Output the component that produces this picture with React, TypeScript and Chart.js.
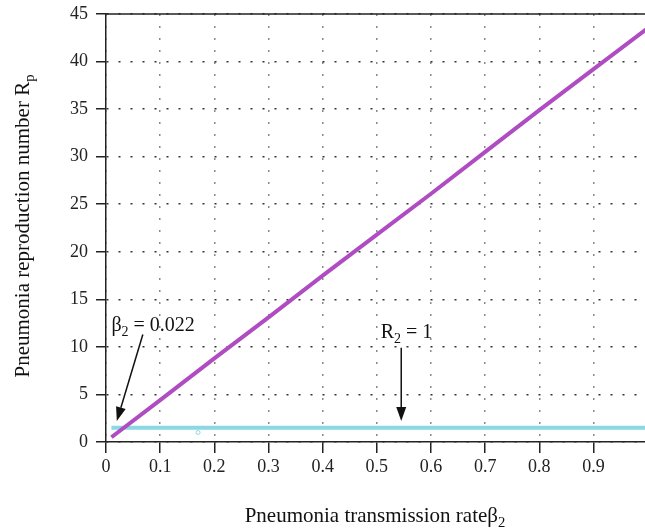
import React, { useEffect, useRef } from "react";
import { Chart, registerables } from "chart.js";
Chart.register(...registerables);

// ---- data ----
const betaValues = [0.01, 0.1, 0.2, 0.3, 0.4, 0.5, 0.6, 0.7, 0.8, 0.9, 1.0];
const rpValues = [0.5, 4.4, 8.8, 13.1, 17.5, 21.8, 26.1, 30.5, 34.9, 39.2, 43.5];
const thresholdBeta = [0.01, 1.0];
const thresholdValues = [1.5, 1.5];
const markerBeta = [0.17];
const markerValues = [1.0];
const xTickValues = [0, 0.1, 0.2, 0.3, 0.4, 0.5, 0.6, 0.7, 0.8, 0.9];
const yTickValues = [0, 5, 10, 15, 20, 25, 30, 35, 40, 45];
const xRange = [0, 0.995];
const yRange = [0, 45];
// annotations: label anchor (beta, Rp), arrow from, arrow to
const betaNote = { main: "\u03B2", sub: "2", rest: " = 0.022", at: [0.01, 11.7], from: [0.068, 11.3], to: [0.02, 2.2] };
const r2Note = { main: "R", sub: "2", rest: " = 1", at: [0.507, 10.9], from: [0.545, 9.9], to: [0.545, 2.2] };
const xTitle = { main: "Pneumonia transmission rate\u03B2", sub: "2" };
const yTitle = { main: "Pneumonia reproduction number R", sub: "p" };

const FONT = '"Liberation Serif", "DejaVu Serif", serif';

function drawSubText(ctx: CanvasRenderingContext2D, main: string, sub: string, rest: string, x: number, y: number, size: number, align: "left" | "center") {
  ctx.font = `${size}px ${FONT}`;
  const w1 = ctx.measureText(main).width;
  ctx.font = `${size * 0.7}px ${FONT}`;
  const w2 = ctx.measureText(sub).width;
  ctx.font = `${size}px ${FONT}`;
  const w3 = ctx.measureText(rest).width;
  const total = w1 + w2 + w3;
  const x0 = align === "center" ? x - total / 2 : x;
  ctx.textAlign = "left";
  ctx.textBaseline = "alphabetic";
  ctx.fillText(main, x0, y);
  ctx.font = `${size * 0.7}px ${FONT}`;
  ctx.fillText(sub, x0 + w1, y + size * 0.25);
  ctx.font = `${size}px ${FONT}`;
  ctx.fillText(rest, x0 + w1 + w2, y);
}

function drawArrow(ctx: CanvasRenderingContext2D, x1: number, y1: number, x2: number, y2: number) {
  const ang = Math.atan2(y2 - y1, x2 - x1);
  const hl = 14, hw = 5;
  const bx = x2 - hl * Math.cos(ang), by = y2 - hl * Math.sin(ang);
  ctx.strokeStyle = "#111";
  ctx.fillStyle = "#111";
  ctx.lineWidth = 1.5;
  ctx.beginPath();
  ctx.moveTo(x1, y1);
  ctx.lineTo(bx, by);
  ctx.stroke();
  ctx.beginPath();
  ctx.moveTo(x2, y2);
  ctx.lineTo(bx + hw * Math.sin(ang), by - hw * Math.cos(ang));
  ctx.lineTo(bx - hw * Math.sin(ang), by + hw * Math.cos(ang));
  ctx.closePath();
  ctx.fill();
}

const overlayPlugin = {
  id: "overlay",
  afterDraw(chart: any) {
    const { ctx, chartArea, scales } = chart;
    const xs = scales.x, ys = scales.y;
    ctx.save();
    ctx.strokeStyle = "#222";
    ctx.lineWidth = 1.5;
    ctx.beginPath();
    ctx.moveTo(chartArea.left, chartArea.top);
    ctx.lineTo(chart.width, chartArea.top);
    ctx.stroke();
    ctx.fillStyle = "#111";
    for (const n of [betaNote, r2Note]) {
      drawSubText(ctx, n.main, n.sub, n.rest, xs.getPixelForValue(n.at[0]), ys.getPixelForValue(n.at[1]), 20, "left");
      drawArrow(ctx, xs.getPixelForValue(n.from[0]), ys.getPixelForValue(n.from[1]), xs.getPixelForValue(n.to[0]), ys.getPixelForValue(n.to[1]));
    }
    ctx.fillStyle = "#111";
    drawSubText(ctx, xTitle.main, xTitle.sub, "", 375, 522, 21, "center");
    ctx.save();
    ctx.translate(22, 226);
    ctx.rotate(-Math.PI / 2);
    drawSubText(ctx, yTitle.main, yTitle.sub, "", 0, 7, 21, "center");
    ctx.restore();
    ctx.restore();
  },
};

export default function App() {
  const ref = useRef<HTMLCanvasElement>(null);
  useEffect(() => {
    if (!ref.current) return;
    const chart = new Chart(ref.current, {
      type: "scatter",
      data: {
        datasets: [
          {
            label: "Rp",
            data: betaValues.map((b, i) => ({ x: b, y: rpValues[i] })),
            showLine: true,
            borderColor: "#b04cc2",
            borderWidth: 4,
            pointRadius: 0,
            order: 1,
          },
          {
            label: "R2",
            data: thresholdBeta.map((b, i) => ({ x: b, y: thresholdValues[i] })),
            showLine: true,
            borderColor: "#8ad8e4",
            borderWidth: 4,
            pointRadius: 0,
            order: 2,
          },
          {
            label: "marker",
            data: markerBeta.map((b, i) => ({ x: b, y: markerValues[i] })),
            showLine: false,
            borderColor: "#8ad8e4",
            backgroundColor: "#ffffff",
            borderWidth: 1,
            pointRadius: 2,
            order: 0,
          },
        ],
      },
      options: {
        responsive: false,
        animation: false,
        layout: { autoPadding: false, padding: { top: 14, right: 0, left: 0, bottom: 0 } },
        plugins: { legend: { display: false }, tooltip: { enabled: false } },
        scales: {
          x: {
            type: "linear",
            min: xRange[0],
            max: xRange[1],
            afterBuildTicks: (s: any) => { s.ticks = xTickValues.map((v) => ({ value: v })); },
            afterFit: (s: any) => { s.height = 89; s.paddingRight = 0; s.paddingLeft = 0; },
            ticks: {
              font: { family: FONT, size: 18 },
              color: "#222",
              padding: 3,
              maxRotation: 0,
              callback: (v: any) => String(Number(Number(v).toFixed(1))),
            },
            grid: {
              color: "#888",
              lineWidth: 1.5,
              tickColor: "#222",
              tickWidth: 1.5,
              tickLength: 11,
              tickBorderDash: [],
            },
            border: { display: true, color: "#222", width: 1.5, dash: [2, 10] },
          },
          y: {
            type: "linear",
            min: yRange[0],
            max: yRange[1],
            afterBuildTicks: (s: any) => { s.ticks = yTickValues.map((v) => ({ value: v })); },
            afterFit: (s: any) => { s.width = 106; s.paddingTop = 0; s.paddingBottom = 0; },
            ticks: {
              font: { family: FONT, size: 18 },
              color: "#222",
              padding: 8,
              callback: (v: any) => String(v),
            },
            grid: {
              color: "#333",
              lineWidth: 1.5,
              tickColor: "#222",
              tickWidth: 1.5,
              tickLength: 10,
              tickBorderDash: [],
            },
            border: { display: true, color: "#222", width: 1.5, dash: [2, 10] },
          },
        },
      },
      plugins: [overlayPlugin],
    } as any);
    return () => chart.destroy();
  }, []);
  return (
    <div style={{ position: "fixed", left: 0, top: 0, width: 645, height: 531, background: "#fff" }}>
      <canvas ref={ref} width={645} height={531} />
    </div>
  );
}
